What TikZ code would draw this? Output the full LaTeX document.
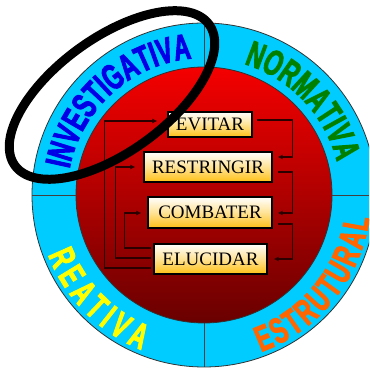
\documentclass[tikz,border=0pt]{standalone}
\usepackage{fontspec}
\setmainfont{Liberation Serif}
\newfontfamily\ringfont{Liberation Sans Bold}[FakeStretch=0.64,FakeBold=2.6]
\usetikzlibrary{decorations.text,arrows.meta}
\definecolor{ringcyan}{RGB}{0,204,255}
\definecolor{redtop}{RGB}{245,0,0}
\definecolor{redmid}{RGB}{200,0,0}
\definecolor{redbot}{RGB}{105,0,0}
\definecolor{boxgold}{RGB}{255,192,20}
\definecolor{connred}{RGB}{45,0,0}
\definecolor{invblue}{RGB}{0,0,230}
\definecolor{normgreen}{RGB}{0,128,0}
\definecolor{reayellow}{RGB}{255,255,0}
\definecolor{estorange}{RGB}{255,102,0}
\tikzset{
  stagebox/.style={draw=black, line width=1.2pt, top color=white, bottom color=boxgold,
    middle color=boxgold!45!white, inner sep=0pt, font=\fontsize{19}{19}\selectfont},
  conn/.style={draw=connred, line width=1.1pt, -{Latex[length=5pt,width=5pt]}},
  divider/.style={draw=black!75, line width=0.8pt},
  ringtext/.style={decorate, decoration={text along path, text align={fit to path}, text={#1}}}
}
\begin{document}
\begin{tikzpicture}[x=1pt,y=1pt]
\useasboundingbox (0,0) rectangle (369,371);
\clip (0,0) rectangle (369,371);
\coordinate (c) at (204,176);
% outer ring
\fill[ringcyan, draw=black!80, line width=0.8pt] (c) circle (172);
% inner disc
\shade[top color=redtop, middle color=redmid, bottom color=redbot, draw=black!80, line width=0.8pt] (c) circle (128);
% dividers
\draw[divider] ([yshift=128pt]c) -- ([yshift=172pt]c);
\draw[divider] ([yshift=-128pt]c) -- ([yshift=-172pt]c);
\draw[divider] ([xshift=-128pt]c) -- ([xshift=-172pt]c);
\draw[divider] ([xshift=128pt]c) -- ([xshift=172pt]c);
% ring labels
\path[ringtext={|\ringfont\fontsize{36}{36}\selectfont\color{invblue}|INVESTIGATIVA}]
  ([shift={(169:137)}]c) arc[start angle=169, end angle=97, radius=137];
\path[ringtext={|\ringfont\fontsize{36}{36}\selectfont\color{normgreen}|NORMATIVA}]
  ([shift={(73:137)}]c) arc[start angle=73, end angle=14, radius=137];
\path[ringtext={|\ringfont\fontsize{36}{36}\selectfont\color{reayellow}|REATIVA}]
  ([shift={(201:167)}]c) arc[start angle=201, end angle=248, radius=167];
\path[ringtext={|\ringfont\fontsize{36}{36}\selectfont\color{estorange}|ESTRUTURAL}]
  ([shift={(290:167)}]c) arc[start angle=290, end angle=352, radius=167];
% boxes
\node[stagebox, minimum width=84pt, minimum height=25pt] (evi) at (210,246.5) {EVITAR};
\node[stagebox, minimum width=128pt, minimum height=30pt] (res) at (208,204) {RESTRINGIR};
\node[stagebox, minimum width=124pt, minimum height=31pt] (com) at (210,158.5) {COMBATER};
\node[stagebox, minimum width=113pt, minimum height=30pt] (elu) at (210.5,112) {ELUCIDAR};
% left connectors
\draw[conn] ([xshift=-2pt,yshift=-9pt]elu.west) -- ++(-47,0) |- ([xshift=-10pt,yshift=3.5pt]evi.west);
\draw[conn] ([xshift=-2pt,yshift=1pt]elu.west) -- ++(-36,0) |- ([xshift=-8pt]res.west);
\draw[conn] ([xshift=-2pt,yshift=11pt]elu.west) -- ++(-27,0) |- ([xshift=-6pt,yshift=-0.5pt]com.west);
% right connectors
\draw[conn] ([xshift=4pt,yshift=4.5pt]evi.east) -- ++(36,0) |- ([xshift=5pt,yshift=10pt]res.east);
\draw[conn] ([xshift=5pt,yshift=-5pt]res.east) -- ++(15,0) |- ([xshift=5pt,yshift=-0.5pt]com.east);
\draw[conn] ([xshift=5pt,yshift=-11.5pt]com.east) -- ++(15,0) |- ([xshift=6pt]elu.east);
% highlight ellipse
\draw[black, line width=9pt, rotate around={36:(112,276)}] (112,276) ellipse [x radius=120, y radius=57];
\end{tikzpicture}
\end{document}
